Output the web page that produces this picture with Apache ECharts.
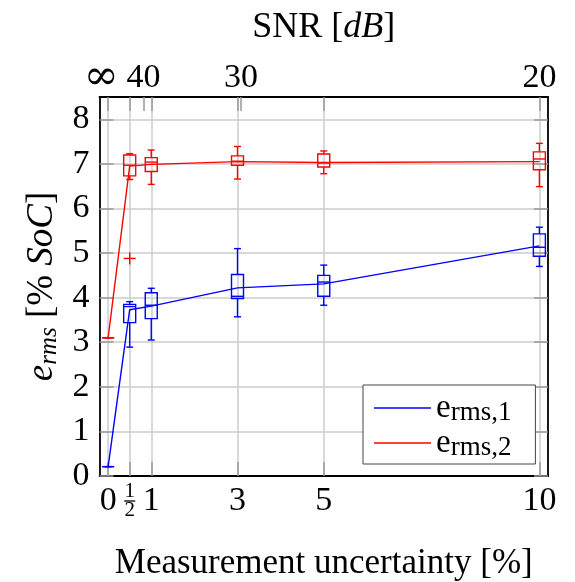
<!DOCTYPE html>
<html>
<head>
<meta charset="utf-8">
<script src="https://cdn.jsdelivr.net/npm/echarts@6/dist/echarts.min.js"></script>
<style>
  html, body { margin: 0; padding: 0; background: #fff; }
  #chart { width: 575px; height: 582px; }
</style>
</head>
<body>
<div id="chart"></div>
<script>
// measurement uncertainty in %, bottom axis
var uncertainty = [0, 0.5, 1, 3, 5, 10];
var xTickLabels = ['0', '1/2', '1', '3', '5', '10'];
// SNR axis on top
var snrTickPos = [0.82, 3.08];
var snrLabelPos = [-0.16, 0.82, 3.08, 10];
var snrTickLabels = ['∞', '40', '30', '20'];
var yTicks = [0, 1, 2, 3, 4, 5, 6, 7, 8];

// e_rms,1 (blue)
var e1Min = [0.21, 2.89, 3.05, 3.57, 3.83, 4.70];
var e1Q1 = [0.21, 3.44, 3.53, 3.98, 4.03, 4.93];
var e1Med = [0.21, 3.80, 3.83, 4.03, 4.35, 5.13];
var e1Q3 = [0.21, 3.85, 4.11, 4.52, 4.50, 5.43];
var e1Max = [0.21, 3.91, 4.21, 5.10, 4.73, 5.58];
var e1Mean = [0.21, 3.73, 3.81, 4.22, 4.31, 5.16];

// e_rms,2 (red)
var e2Min = [3.10, 6.65, 6.54, 6.66, 6.78, 6.49];
var e2Q1 = [3.10, 6.73, 6.83, 6.97, 6.93, 6.87];
var e2Med = [3.10, 6.97, 7.04, 7.06, 7.02, 7.11];
var e2Q3 = [3.10, 7.20, 7.14, 7.18, 7.22, 7.27];
var e2Max = [3.10, 7.23, 7.31, 7.39, 7.29, 7.46];
var e2Mean = [3.10, 6.95, 6.99, 7.05, 7.03, 7.05];
var e2Outliers = [[0.5, 4.88]];

var serif = "'Liberation Serif', 'DejaVu Serif', serif";
var blue = '#0000ff';
var red = '#ff0000';

function boxRows(mn, q1, med, q3, mx) {
  return uncertainty.map(function (x, i) {
    return [x, mn[i], q1[i], med[i], q3[i], mx[i]];
  });
}

function boxItem(color) {
  return function (params, api) {
    var x = api.value(0);
    var pMin = api.coord([x, api.value(1)]);
    var pQ1 = api.coord([x, api.value(2)]);
    var pMed = api.coord([x, api.value(3)]);
    var pQ3 = api.coord([x, api.value(4)]);
    var pMax = api.coord([x, api.value(5)]);
    var cx = pMin[0];
    var hw = 6, cw = 3.5;
    var st = { stroke: color, lineWidth: 1.4, fill: null };
    return {
      type: 'group',
      children: [
        { type: 'line', shape: { x1: cx, y1: pMin[1], x2: cx, y2: pQ1[1] }, style: st },
        { type: 'line', shape: { x1: cx, y1: pQ3[1], x2: cx, y2: pMax[1] }, style: st },
        { type: 'line', shape: { x1: cx - cw, y1: pMin[1], x2: cx + cw, y2: pMin[1] }, style: st },
        { type: 'line', shape: { x1: cx - cw, y1: pMax[1], x2: cx + cw, y2: pMax[1] }, style: st },
        { type: 'rect', shape: { x: cx - hw, y: pQ3[1], width: 2 * hw, height: pQ1[1] - pQ3[1] },
          style: { stroke: color, lineWidth: 1.4, fill: 'rgba(0,0,0,0)' } },
        { type: 'line', shape: { x1: cx - hw, y1: pMed[1], x2: cx + hw, y2: pMed[1] }, style: st }
      ]
    };
  };
}

function plusItem(color) {
  return function (params, api) {
    var p = api.coord([api.value(0), api.value(1)]);
    var s = 6;
    var st = { stroke: color, lineWidth: 1.4 };
    return {
      type: 'group',
      children: [
        { type: 'line', shape: { x1: p[0] - s, y1: p[1], x2: p[0] + s, y2: p[1] }, style: st },
        { type: 'line', shape: { x1: p[0], y1: p[1] - s, x2: p[0], y2: p[1] + s }, style: st }
      ]
    };
  };
}

var chart = echarts.init(document.getElementById('chart'));
var gridColor = '#cccccc';
var tickColor = '#999999';

var option = {
  backgroundColor: '#fff',
  animation: false,
  grid: { left: 99.5, right: 27, top: 97, bottom: 106, containLabel: false, outerBoundsMode: 'none' },
  legend: {
    data: ['e_rms,1', 'e_rms,2'],
    orient: 'vertical',
    left: 363,
    top: 385,
    icon: 'rect',
    itemWidth: 57,
    itemHeight: 1.5,
    itemGap: -1,
    padding: [5, 24, 3, 11],
    borderColor: '#444',
    borderWidth: 1,
    borderRadius: 0,
    backgroundColor: '#fff',
    formatter: function (name) {
      return '{e|e}{s|' + name.split('_')[1] + '}';
    },
    textStyle: {
      rich: {
        e: { fontFamily: serif, fontSize: 33, color: '#000', lineHeight: 27 },
        s: { fontFamily: serif, fontSize: 27, color: '#000', lineHeight: 18, padding: [9, 0, 0, 0] }
      }
    }
  },
  xAxis: [
    {
      type: 'value',
      min: -0.2,
      max: 10.2,
      position: 'bottom',
      axisLine: { show: true, onZero: false, lineStyle: { color: '#000', width: 1.8 } },
      axisTick: { show: true, inside: true, length: 14, customValues: uncertainty,
        lineStyle: { color: tickColor, width: 1.5 } },
      splitLine: { show: true, lineStyle: { color: gridColor, width: 1.5 } },
      axisLabel: {
        customValues: uncertainty,
        margin: 8,
        formatter: function (v) {
          var s = xTickLabels[uncertainty.indexOf(v)];
          if (s === '1/2') return '{n|1}\n{bar| }\n{n|2}';
          return '{t|' + s + '}';
        },
        rich: {
          t: { fontFamily: serif, fontSize: 34, color: '#000' },
          n: { fontFamily: serif, fontSize: 21, color: '#000', lineHeight: 15 },
          bar: { fontSize: 1, lineHeight: 4, height: 1.3, width: 11, backgroundColor: '#000' }
        }
      },
      name: 'Measurement uncertainty [%]',
      nameLocation: 'middle',
      nameGap: 70,
      nameTextStyle: { fontFamily: serif, fontSize: 35, color: '#000' }
    },
    {
      type: 'value',
      min: -0.2,
      max: 10.2,
      position: 'top',
      axisLine: { show: true, onZero: false, lineStyle: { color: '#000', width: 1.8 } },
      axisTick: { show: true, inside: true, length: 14,
        customValues: uncertainty.concat(snrTickPos),
        lineStyle: { color: tickColor, width: 1.5 } },
      splitLine: { show: false },
      axisLabel: {
        customValues: snrLabelPos,
        margin: 2,
        formatter: function (v) {
          var s = snrTickLabels[snrLabelPos.indexOf(v)];
          return s === '∞' ? '{inf|' + s + '}' : '{t|' + s + '}';
        },
        rich: {
          t: { fontFamily: serif, fontSize: 34, color: '#000' },
          inf: { fontFamily: "'DejaVu Serif', serif", fontSize: 42, color: '#000', lineHeight: 34 }
        }
      },
      name: '{r|SNR [}{i|dB}{r|]}',
      nameLocation: 'middle',
      nameGap: 51,
      nameTextStyle: {
        rich: {
          r: { fontFamily: serif, fontSize: 36, color: '#000' },
          i: { fontFamily: serif, fontStyle: 'italic', fontSize: 36, color: '#000' }
        }
      }
    }
  ],
  yAxis: [
    {
      type: 'value',
      min: 0,
      max: 8.5,
      position: 'left',
      axisLine: { show: true, onZero: false, lineStyle: { color: '#000', width: 1.8 } },
      axisTick: { show: true, inside: true, length: 14, customValues: yTicks,
        lineStyle: { color: tickColor, width: 1.5 } },
      splitLine: { show: true, lineStyle: { color: gridColor, width: 1.5 } },
      axisLabel: { customValues: yTicks, margin: 10, fontFamily: serif, fontSize: 34, color: '#000' },
      name: '{i|e}{s|rms}{r| [% }{i|SoC}{r|]}',
      nameLocation: 'middle',
      nameRotate: 90,
      nameGap: 40,
      nameTextStyle: {
        rich: {
          i: { fontFamily: serif, fontStyle: 'italic', fontSize: 37, color: '#000', lineHeight: 32 },
          s: { fontFamily: serif, fontStyle: 'italic', fontSize: 25, color: '#000', lineHeight: 22, padding: [13, 0, 0, 0] },
          r: { fontFamily: serif, fontSize: 37, color: '#000', lineHeight: 32 }
        }
      }
    },
    {
      type: 'value',
      min: 0,
      max: 8.5,
      position: 'right',
      axisLine: { show: true, onZero: false, lineStyle: { color: '#000', width: 1.8 } },
      axisTick: { show: true, inside: true, length: 14, customValues: yTicks,
        lineStyle: { color: tickColor, width: 1.5 } },
      splitLine: { show: false },
      axisLabel: { show: false }
    }
  ],
  series: [
    {
      type: 'custom',
      name: 'box1',
      renderItem: boxItem(blue),
      data: boxRows(e1Min, e1Q1, e1Med, e1Q3, e1Max),
      encode: { x: 0, y: [1, 2, 3, 4, 5] },
      z: 3,
      silent: true
    },
    {
      type: 'custom',
      name: 'box2',
      renderItem: boxItem(red),
      data: boxRows(e2Min, e2Q1, e2Med, e2Q3, e2Max),
      encode: { x: 0, y: [1, 2, 3, 4, 5] },
      z: 3,
      silent: true
    },
    {
      type: 'custom',
      name: 'out2',
      renderItem: plusItem(red),
      data: e2Outliers,
      encode: { x: 0, y: 1 },
      z: 3,
      silent: true
    },
    {
      type: 'line',
      name: 'e_rms,1',
      data: uncertainty.map(function (x, i) { return [x, e1Mean[i]]; }),
      symbol: 'none',
      lineStyle: { color: blue, width: 1.4 },
      itemStyle: { color: blue },
      z: 4
    },
    {
      type: 'line',
      name: 'e_rms,2',
      data: uncertainty.map(function (x, i) { return [x, e2Mean[i]]; }),
      symbol: 'none',
      lineStyle: { color: red, width: 1.4 },
      itemStyle: { color: red },
      z: 4
    }
  ]
};

chart.setOption(option);
</script>
</body>
</html>
